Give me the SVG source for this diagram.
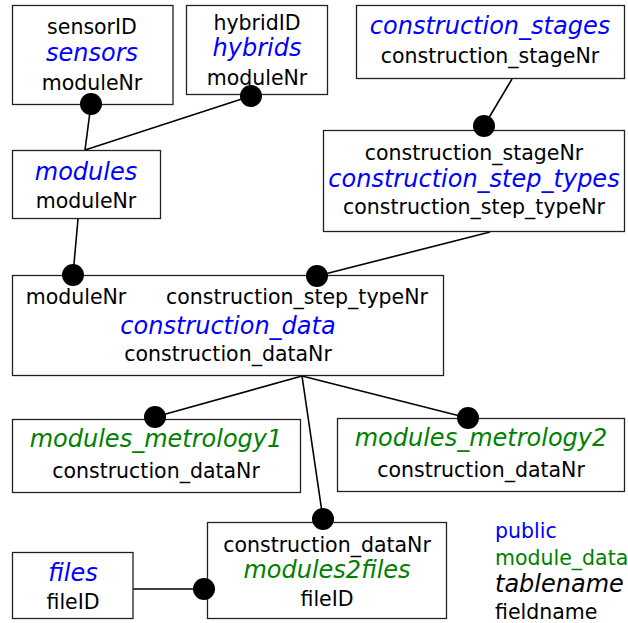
<svg xmlns="http://www.w3.org/2000/svg" width="628" height="623" viewBox="0 0 628 623">
  <style>
    rect.box { fill: #ffffff; stroke: #222222; stroke-width: 1.3; }
    text { font-family: "DejaVu Sans", "Liberation Sans", sans-serif; text-anchor: middle; }
    .field { font-size: 20.5px; fill: #000000; }
    .pub { font-size: 24px; font-style: italic; fill: #0000ff; }
    .mod { font-size: 24px; font-style: italic; fill: #008000; }
    .leg { text-anchor: start; }
    #connectors line { stroke: #000000; stroke-width: 1.6; }
    circle.dot { fill: #000000; }
  </style>

  <g id="connectors">
    <line x1="91" y1="104" x2="85" y2="150"/>
    <line x1="251" y1="96" x2="85" y2="150"/>
    <line x1="78" y1="219" x2="73" y2="275"/>
    <line x1="512" y1="79" x2="484" y2="126"/>
    <line x1="490" y1="232" x2="317" y2="276"/>
    <line x1="302" y1="376" x2="155" y2="417"/>
    <line x1="302" y1="376" x2="468" y2="418"/>
    <line x1="302" y1="376" x2="323" y2="519"/>
    <line x1="133" y1="589" x2="204" y2="589"/>
  </g>

  <g id="sensors">
    <rect class="box" x="12.5" y="5.5" width="160.5" height="99"/>
    <text class="field" x="92" y="34">sensorID</text>
    <text class="pub" x="92" y="61">sensors</text>
    <text class="field" x="92" y="90">moduleNr</text>
    <circle class="dot" cx="91" cy="104" r="11"/>
  </g>

  <g id="hybrids">
    <rect class="box" x="186.5" y="5.5" width="141" height="89"/>
    <text class="field" x="257" y="30">hybridID</text>
    <text class="pub" x="257" y="56">hybrids</text>
    <text class="field" x="257" y="85">moduleNr</text>
    <circle class="dot" cx="251" cy="96" r="11"/>
  </g>

  <g id="modules">
    <rect class="box" x="12.5" y="150.5" width="148" height="68"/>
    <text class="pub" x="86" y="180">modules</text>
    <text class="field" x="86" y="208">moduleNr</text>
  </g>

  <g id="construction_stages">
    <rect class="box" x="356.5" y="5.5" width="268" height="73"/>
    <text class="pub" x="490" y="34">construction_stages</text>
    <text class="field" x="490" y="63">construction_stageNr</text>
  </g>

  <g id="construction_step_types">
    <rect class="box" x="323.5" y="130.5" width="301" height="101"/>
    <text class="field" x="474" y="160">construction_stageNr</text>
    <text class="pub" x="474" y="187">construction_step_types</text>
    <text class="field" x="474" y="214">construction_step_typeNr</text>
    <circle class="dot" cx="484" cy="126" r="11"/>
  </g>

  <g id="construction_data">
    <rect class="box" x="12.5" y="275.5" width="431" height="100"/>
    <text class="field" x="76" y="304">moduleNr</text>
    <text class="field" x="297" y="304">construction_step_typeNr</text>
    <text class="pub" x="228" y="334">construction_data</text>
    <text class="field" x="228" y="361">construction_dataNr</text>
    <circle class="dot" cx="73" cy="275" r="11"/>
    <circle class="dot" cx="317" cy="276" r="11"/>
  </g>

  <g id="modules_metrology1">
    <rect class="box" x="12.5" y="419.5" width="288" height="73"/>
    <text class="mod" x="156" y="447">modules_metrology1</text>
    <text class="field" x="156" y="478">construction_dataNr</text>
    <circle class="dot" cx="155" cy="417" r="11"/>
  </g>

  <g id="modules_metrology2">
    <rect class="box" x="337.5" y="418.5" width="287" height="73"/>
    <text class="mod" x="481" y="446">modules_metrology2</text>
    <text class="field" x="481" y="477">construction_dataNr</text>
    <circle class="dot" cx="468" cy="418" r="11"/>
  </g>

  <g id="modules2files">
    <rect class="box" x="207.5" y="522.5" width="239" height="96"/>
    <text class="field" x="327" y="552">construction_dataNr</text>
    <text class="mod" x="327" y="578">modules2files</text>
    <text class="field" x="327" y="606">fileID</text>
    <circle class="dot" cx="323" cy="519" r="11"/>
    <circle class="dot" cx="204" cy="589" r="11"/>
  </g>

  <g id="files">
    <rect class="box" x="12.5" y="552.5" width="120.5" height="66"/>
    <text class="pub" x="73" y="581">files</text>
    <text class="field" x="73" y="609">fileID</text>
  </g>

  <g id="legend">
    <text class="leg" x="495" y="538" font-size="20.5" fill="#0000ff">public</text>
    <text class="leg" x="495" y="565" font-size="20.5" fill="#008000">module_data</text>
    <text class="leg" x="495" y="592" font-size="24" font-style="italic" fill="#000000">tablename</text>
    <text class="leg" x="495" y="619" font-size="20.5" fill="#000000">fieldname</text>
  </g>
</svg>
